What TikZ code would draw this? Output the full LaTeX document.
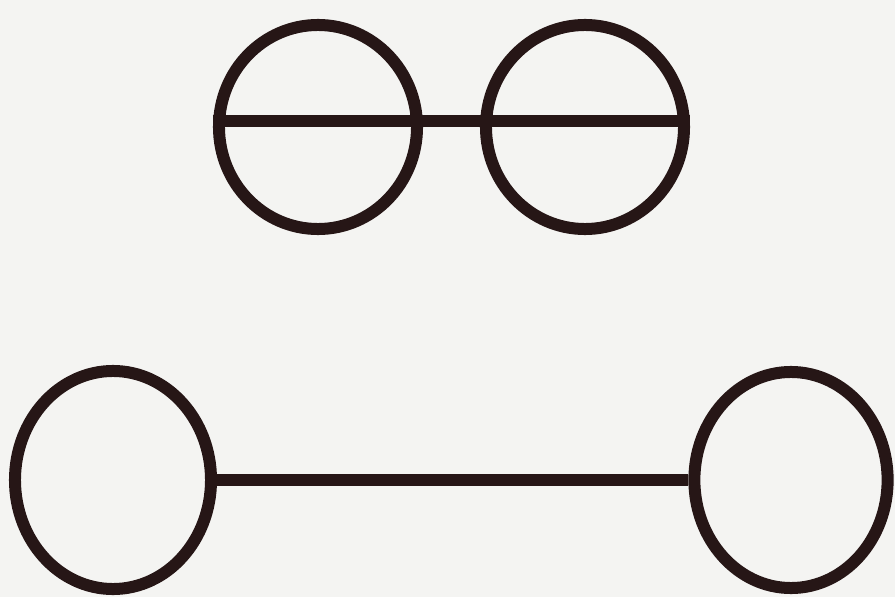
\documentclass[tikz,border=0pt]{standalone}
\usetikzlibrary{positioning,shapes.geometric}
\definecolor{inkdark}{RGB}{38,22,22}
\definecolor{paper}{RGB}{244,244,242}
\tikzset{
  ring/.style={ellipse,draw=inkdark,line width=0.3cm,inner sep=0pt},
  bond/.style={draw=inkdark,line width=0.29cm},
}
\begin{document}
\begin{tikzpicture}[x=0.025cm,y=-0.025cm]
  % page
  \fill[paper] (0,0) rectangle (895,597);
  \useasboundingbox (0,0) rectangle (895,597);
  % upper pair, bar runs through both
  \node[ring,minimum width=4.95cm,minimum height=5.1cm] (ringA) at (318,127) {};
  \node[ring,minimum width=4.95cm,minimum height=5.1cm] (ringB) at (585,127) {};
  % lower pair, long bar between
  \node[ring,minimum width=4.9cm,minimum height=5.45cm] (ringC) at (113,480) {};
  \node[ring,minimum width=4.83cm,minimum height=5.4cm] (ringD) at (791,480) {};
  \draw[bond] ([yshift=0.15cm]ringA.west) -- ([yshift=0.15cm]ringB.east);
  \draw[bond] (ringC) -- (ringD);
\end{tikzpicture}
\end{document}
